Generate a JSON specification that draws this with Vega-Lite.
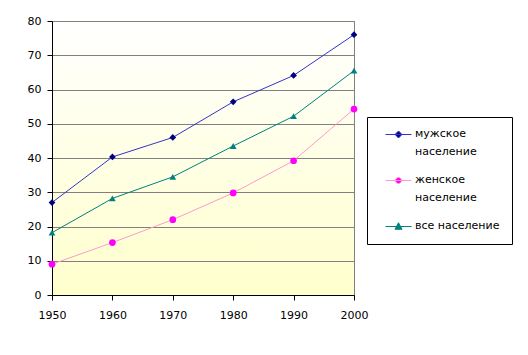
{
  "$schema": "https://vega.github.io/schema/vega-lite/v6.json",
  "width": 302,
  "height": 274,
  "autosize": "none",
  "padding": {"left": 52, "top": 21, "right": 174, "bottom": 60},
  "background": "white",
  "config": {
    "font": "DejaVu Sans",
    "view": {
      "stroke": "#808080",
      "strokeWidth": 1,
      "fill": {"gradient": "linear", "x1": 0, "y1": 0, "x2": 0, "y2": 1, "stops": [{"offset": 0, "color": "#ffffff"}, {"offset": 1, "color": "#ffffcc"}]}
    },
    "axis": {
      "labelFont": "DejaVu Sans",
      "labelFontSize": 11,
      "labelColor": "#000000",
      "domainColor": "#000000",
      "tickColor": "#000000",
      "tickSize": 5,
      "title": null
    }
  },
  "data": {
    "values": [
      {"year": 1950, "series": "мужское население", "value": 27.0},
      {"year": 1960, "series": "мужское население", "value": 40.3},
      {"year": 1970, "series": "мужское население", "value": 46.0},
      {"year": 1980, "series": "мужское население", "value": 56.4},
      {"year": 1990, "series": "мужское население", "value": 64.1},
      {"year": 2000, "series": "мужское население", "value": 76.0},
      {"year": 1950, "series": "женское население", "value": 9.0},
      {"year": 1960, "series": "женское население", "value": 15.3},
      {"year": 1970, "series": "женское население", "value": 22.0},
      {"year": 1980, "series": "женское население", "value": 29.8},
      {"year": 1990, "series": "женское население", "value": 39.2},
      {"year": 2000, "series": "женское население", "value": 54.3},
      {"year": 1950, "series": "все население", "value": 18.2},
      {"year": 1960, "series": "все население", "value": 28.2},
      {"year": 1970, "series": "все население", "value": 34.5},
      {"year": 1980, "series": "все население", "value": 43.5},
      {"year": 1990, "series": "все население", "value": 52.2},
      {"year": 2000, "series": "все население", "value": 65.5}
    ]
  },
  "encoding": {
    "x": {
      "field": "year", "type": "quantitative",
      "scale": {"domain": [1950, 2000], "nice": false, "zero": false},
      "axis": {"values": [1950, 1960, 1970, 1980, 1990, 2000], "format": "d", "grid": false, "labelFlush": false, "labelPadding": 9}
    },
    "y": {
      "field": "value", "type": "quantitative",
      "scale": {"domain": [0, 80], "nice": false},
      "axis": {"values": [0, 10, 20, 30, 40, 50, 60, 70, 80], "grid": true, "gridColor": "#808080", "gridOpacity": 1, "gridWidth": 1, "labelPadding": 6}
    }
  },
  "layer": [
    {
      "mark": {"type": "line", "strokeWidth": 1},
      "encoding": {
        "color": {
          "field": "series", "type": "nominal",
          "scale": {"domain": ["мужское население", "женское население", "все население"], "range": ["#3333cc", "#ff99cc", "#008080"]},
          "legend": {
            "orient": "none",
            "legendX": 315,
            "legendY": 96,
            "title": null,
            "padding": 12,
            "symbolOffset": 14,
            "fillColor": "#ffffff",
            "strokeColor": "#000000",
            "labelFont": "DejaVu Sans",
            "labelFontSize": 11,
            "labelColor": "#000000",
            "labelLimit": 200,
            "labelOffset": 11,
            "labelBaseline": "top",
            "rowPadding": 16,
            "symbolSize": 100,
            "symbolStrokeWidth": 1,
            "labelExpr": "datum.label == 'все население' ? datum.label : split(datum.label, ' ')",
            "encoding": {
              "labels": {"dy": {"value": -7}, "lineHeight": {"value": 18}},
              "symbols": {
                "shape": {"value": {"expr": "datum.value == 'мужское население' ? 'M-2.6,0H2.6M0,-0.7L0.7,0L0,0.7L-0.7,0Z' : datum.value == 'женское население' ? 'M-2.6,0H2.6M0.6,0A0.6,0.6,0,1,1,-0.6,0A0.6,0.6,0,1,1,0.6,0Z' : 'M-2.6,0H2.6M0,-0.75L0.7,0.55L-0.7,0.55Z'"}},
                "fill": {"value": {"expr": "datum.value == 'мужское население' ? '#000080' : datum.value == 'женское население' ? '#ff00ff' : '#008080'"}},
                "fillOpacity": {"value": 1}
              }
            }
          }
        }
      }
    },
    {
      "mark": {"type": "point", "filled": true, "opacity": 1, "size": 45},
      "encoding": {
        "color": {
          "field": "series", "type": "nominal",
          "scale": {"domain": ["мужское население", "женское население", "все население"], "range": ["#000080", "#ff00ff", "#008080"]},
          "legend": null
        },
        "shape": {
          "field": "series", "type": "nominal",
          "scale": {"domain": ["мужское население", "женское население", "все население"], "range": ["diamond", "circle", "triangle-up"]},
          "legend": null
        }
      }
    }
  ],
  "resolve": {"scale": {"color": "independent"}}
}
